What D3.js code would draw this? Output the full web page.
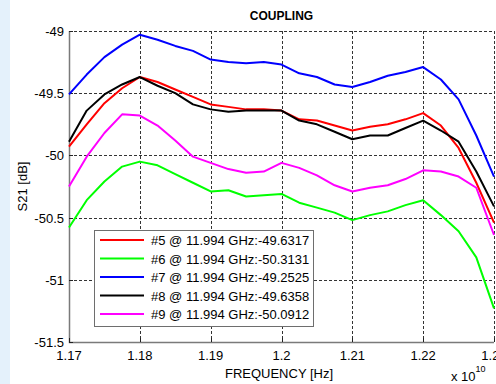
<!DOCTYPE html>
<html>
<head>
<meta charset="utf-8">
<script src="https://cdn.jsdelivr.net/npm/d3@7"></script>
<style>
  body { margin: 0; background: #fff; }
  svg { display: block; font-family: "Liberation Sans", Arial, Helvetica, sans-serif; }
</style>
</head>
<body>
<svg id="chart"></svg>
<script>
const width = 496;
const height = 384;

// frequency in units of 1e10 Hz
const freq = [1.17, 1.1725, 1.175, 1.1775, 1.18, 1.1825, 1.185, 1.1875, 1.19, 1.1925,
  1.195, 1.1975, 1.2, 1.2025, 1.205, 1.2075, 1.21, 1.2125, 1.215, 1.2175,
  1.22, 1.2225, 1.225, 1.2275, 1.23];

const s5 = [-49.93, -49.75, -49.58, -49.46, -49.37, -49.41, -49.47, -49.53, -49.59, -49.61,
  -49.63, -49.63, -49.64, -49.71, -49.72, -49.76, -49.80, -49.77, -49.75, -49.71,
  -49.66, -49.76, -49.94, -50.22, -50.54];
const s6 = [-50.58, -50.36, -50.21, -50.09, -50.05, -50.08, -50.15, -50.22, -50.29, -50.28,
  -50.33, -50.32, -50.31, -50.38, -50.42, -50.46, -50.52, -50.48, -50.45, -50.40,
  -50.36, -50.48, -50.61, -50.82, -51.23];
const s7 = [-49.51, -49.35, -49.21, -49.11, -49.03, -49.07, -49.12, -49.16, -49.23, -49.25,
  -49.26, -49.25, -49.27, -49.34, -49.37, -49.43, -49.45, -49.41, -49.36, -49.33,
  -49.29, -49.39, -49.55, -49.84, -50.17];
const s8 = [-49.89, -49.64, -49.51, -49.43, -49.37, -49.44, -49.50, -49.59, -49.63, -49.65,
  -49.64, -49.64, -49.64, -49.72, -49.75, -49.81, -49.87, -49.84, -49.84, -49.78,
  -49.72, -49.80, -49.89, -50.13, -50.41];
const s9 = [-50.25, -50.01, -49.82, -49.67, -49.68, -49.76, -49.88, -50.01, -50.06, -50.11,
  -50.14, -50.13, -50.06, -50.10, -50.16, -50.24, -50.29, -50.26, -50.24, -50.19,
  -50.12, -50.13, -50.17, -50.26, -50.64];

const seriesNames = ["#5 @ 11.994 GHz:-49.6317", "#6 @ 11.994 GHz:-50.3131",
  "#7 @ 11.994 GHz:-49.2525", "#8 @ 11.994 GHz:-49.6358", "#9 @ 11.994 GHz:-50.0912"];
const seriesColors = ["#ff0000", "#00ff00", "#0000ff", "#000000", "#ff00ff"];
const seriesValues = [s5, s6, s7, s8, s9];

const xTicks = [1.17, 1.18, 1.19, 1.2, 1.21, 1.22, 1.23];
const xTickLabels = ["1.17", "1.18", "1.19", "1.2", "1.21", "1.22", "1.23"];
const yTicks = [-49, -49.5, -50, -50.5, -51, -51.5];
const yTickLabels = ["-49", "-49.5", "-50", "-50.5", "-51", "-51.5"];

const plot = { left: 69, right: 494, top: 31, bottom: 342 };

const x = d3.scaleLinear().domain([1.17, 1.23]).range([plot.left, plot.right]);
const y = d3.scaleLinear().domain([-51.5, -49]).range([plot.bottom, plot.top]);

const svg = d3.select("#chart").attr("width", width).attr("height", height);

// light blue strip at the left edge
svg.append("rect")
  .attr("x", 0).attr("y", 0)
  .attr("width", 10).attr("height", height)
  .attr("fill", "#e4f1fb");

// grid
const grid = svg.append("g")
  .attr("stroke", "#333")
  .attr("stroke-width", 1)
  .attr("stroke-dasharray", "3,2")
  .attr("shape-rendering", "crispEdges");

grid.selectAll("line.vx").data(xTicks.slice(1)).enter()
  .append("line")
  .attr("x1", d => Math.round(x(d)) + 0.5).attr("x2", d => Math.round(x(d)) + 0.5)
  .attr("y1", plot.top).attr("y2", plot.bottom);

grid.selectAll("line.hy").data(yTicks.slice(0, -1)).enter()
  .append("line")
  .attr("x1", plot.left).attr("x2", plot.right)
  .attr("y1", d => Math.round(y(d)) + 0.5).attr("y2", d => Math.round(y(d)) + 0.5);

// axis lines
svg.append("path")
  .attr("d", "M" + (plot.left + 0.5) + "," + plot.top + "V" + (plot.bottom + 0.5) + "H" + plot.right)
  .attr("fill", "none")
  .attr("stroke", "#7a7a7a")
  .attr("stroke-width", 1.5);

// ticks
svg.selectAll("line.xt").data(xTicks).enter()
  .append("line")
  .attr("x1", d => Math.round(x(d)) + 0.5).attr("x2", d => Math.round(x(d)) + 0.5)
  .attr("y1", plot.bottom).attr("y2", plot.bottom - 4)
  .attr("stroke", "#222");

svg.selectAll("line.yt").data(yTicks).enter()
  .append("line")
  .attr("x1", plot.left).attr("x2", plot.left + 4)
  .attr("y1", d => Math.round(y(d)) + 0.5).attr("y2", d => Math.round(y(d)) + 0.5)
  .attr("stroke", "#222");

// tick labels
svg.selectAll("text.xl").data(xTicks).enter()
  .append("text")
  .attr("x", d => x(d))
  .attr("y", 360)
  .attr("text-anchor", "middle")
  .attr("font-size", 13)
  .attr("fill", "#000")
  .text((d, i) => xTickLabels[i]);

svg.selectAll("text.yl").data(yTicks).enter()
  .append("text")
  .attr("x", 64)
  .attr("y", d => y(d) + 5)
  .attr("text-anchor", "end")
  .attr("font-size", 13)
  .attr("fill", "#000")
  .text((d, i) => yTickLabels[i]);

// lines
const line = d3.line()
  .x((d, i) => x(freq[i]))
  .y(d => y(d));

svg.append("g").selectAll("path")
  .data(seriesValues).enter()
  .append("path")
  .attr("d", d => line(d))
  .attr("fill", "none")
  .attr("stroke", (d, i) => seriesColors[i])
  .attr("stroke-width", 2)
  .attr("stroke-linejoin", "round");

// titles
svg.append("text")
  .attr("x", (plot.left + plot.right) / 2)
  .attr("y", 20)
  .attr("text-anchor", "middle")
  .attr("font-size", 12)
  .attr("font-weight", "bold")
  .text("COUPLING");

svg.append("text")
  .attr("x", 279)
  .attr("y", 378)
  .attr("text-anchor", "middle")
  .attr("font-size", 13)
  .text("FREQUENCY [Hz]");

svg.append("text")
  .attr("transform", "translate(27," + (plot.top + plot.bottom) / 2 + ") rotate(-90)")
  .attr("text-anchor", "middle")
  .attr("font-size", 13)
  .text("S21 [dB]");

const expo = svg.append("text")
  .attr("x", 451)
  .attr("y", 381)
  .attr("font-size", 13);
expo.append("tspan").text("x 10");
expo.append("tspan").attr("dy", -9).attr("font-size", 9).text("10");

// legend
const legend = svg.append("g").attr("transform", "translate(94,230)");

legend.append("rect")
  .attr("x", 0.5).attr("y", 0.5)
  .attr("width", 219).attr("height", 96)
  .attr("fill", "#fff")
  .attr("stroke", "#6e6e6e")
  .attr("stroke-width", 1);

legend.selectAll("line").data(seriesNames).enter()
  .append("line")
  .attr("x1", 6).attr("x2", 50)
  .attr("y1", (d, i) => 10 + i * 18.5).attr("y2", (d, i) => 10 + i * 18.5)
  .attr("stroke", (d, i) => seriesColors[i])
  .attr("stroke-width", 2);

legend.selectAll("text").data(seriesNames).enter()
  .append("text")
  .attr("x", 57)
  .attr("y", (d, i) => 15 + i * 18.5)
  .attr("font-size", 13)
  .text(d => d);
</script>
</body>
</html>
